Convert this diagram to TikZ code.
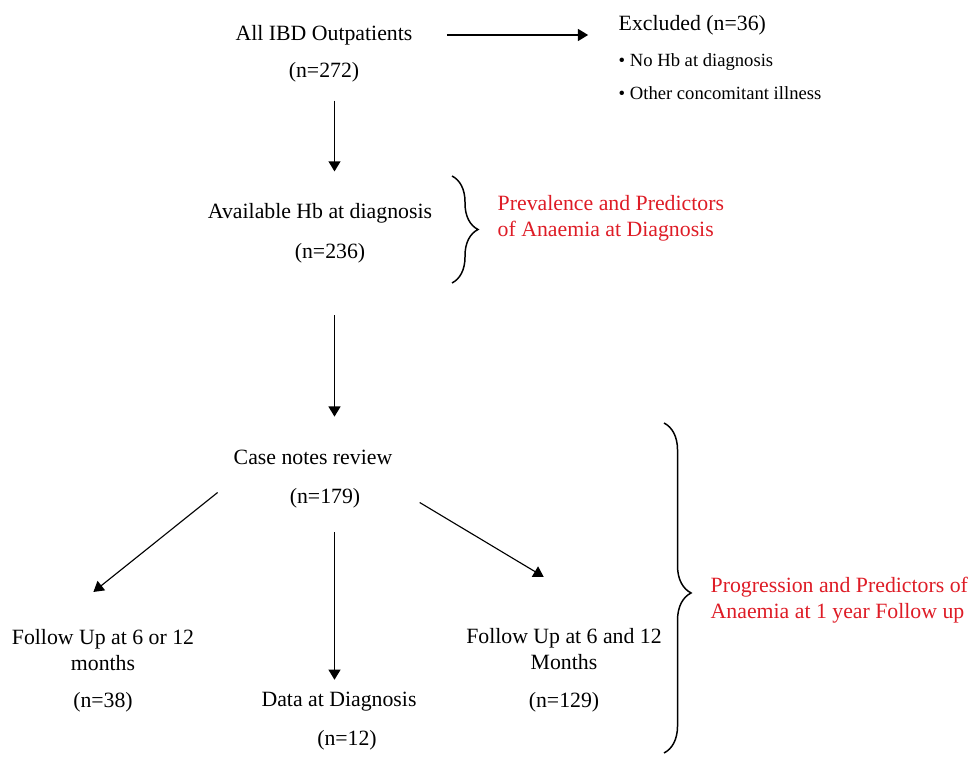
\documentclass[tikz,border=0pt]{standalone}
\usepackage{fontspec}
\setmainfont{Liberation Serif}
\usetikzlibrary{arrows.meta,decorations.pathreplacing}
\definecolor{notered}{RGB}{222,28,38}

\begin{document}
\begin{tikzpicture}[
		lbl/.style={inner sep=1pt, align=center, font=\fontsize{6.2}{7.4}\selectfont},
		note/.style={lbl, align=left, anchor=west, text=notered},
		arr/.style={-{Triangle[length=2.9pt,width=3.4pt]}, line width=0.42pt},
		brc/.style={decorate, line width=0.42pt}
	]
		\useasboundingbox (0,0) rectangle (9.73,7.56);
		\coordinate (spine) at (3.345,0);

		\node[lbl] (all) at (3.24,7.21) {All IBD Outpatients};
		\node[lbl] (allN) at (3.24,6.84) {(n=272)};
		\node[lbl, anchor=west] (excl) at (6.145,7.31) {Excluded (n=36)};
		\node[lbl, anchor=west, align=left, font=\fontsize{5.3}{9.4}\selectfont] (reasons) at (6.145,6.795) {\textbullet\ No Hb at diagnosis\\ \textbullet\ Other concomitant illness};

		\node[lbl] (avail) at (3.20,5.43) {Available Hb at diagnosis};
		\node[lbl] (availN) at (3.30,5.03) {(n=236)};
		\node[note] (prev) at (4.935,5.38) {Prevalence and Predictors\\of Anaemia at Diagnosis};

		\node[lbl] (case) at (3.13,2.99) {Case notes review};
		\node[lbl] (caseN) at (3.25,2.58) {(n=179)};

		\node[lbl] (fuA) at (1.03,1.06) {Follow Up at 6 or 12\\months};
		\node[lbl] (fuAN) at (1.03,0.54) {(n=38)};
		\node[lbl] (diag) at (3.39,0.54) {Data at Diagnosis};
		\node[lbl] (diagN) at (3.47,0.16) {(n=12)};
		\node[lbl] (fuB) at (5.64,1.07) {Follow Up at 6 and 12\\Months};
		\node[lbl] (fuBN) at (5.64,0.54) {(n=129)};
		\node[note] (prog) at (7.065,1.56) {Progression and Predictors of\\Anaemia at 1 year Follow up};

		\draw[arr, shorten <=8.6pt, shorten >=7.5pt] (all.east) -- (all.east -| excl.west);
		\draw[arr, shorten <=4.1pt, shorten >=7.8pt] (allN.south -| spine) -- (avail.north -| spine);
		\draw[arr, shorten <=13.7pt, shorten >=8.2pt] (availN.south -| spine) -- (case.north -| spine);
		\draw[arr, shorten <=5.8pt, shorten >=2.4pt] (caseN.south -| spine) -- (diag.north -| spine);
		\draw[arr, line width=0.32pt, shorten <=10.9pt, shorten >=15.1pt] (case.190) -- (fuA.154);
		\draw[arr, line width=0.32pt, shorten <=18.8pt, shorten >=26.2pt] (case.347) -- (fuB.23);

		\draw[brc, decoration={brace, amplitude=7.4pt}] (4.52,5.80) -- (4.52,4.73);
		\draw[brc, decoration={brace, amplitude=7.7pt, aspect=0.515}] (6.64,3.33) -- (6.64,0.03);
	\end{tikzpicture}
\end{document}
